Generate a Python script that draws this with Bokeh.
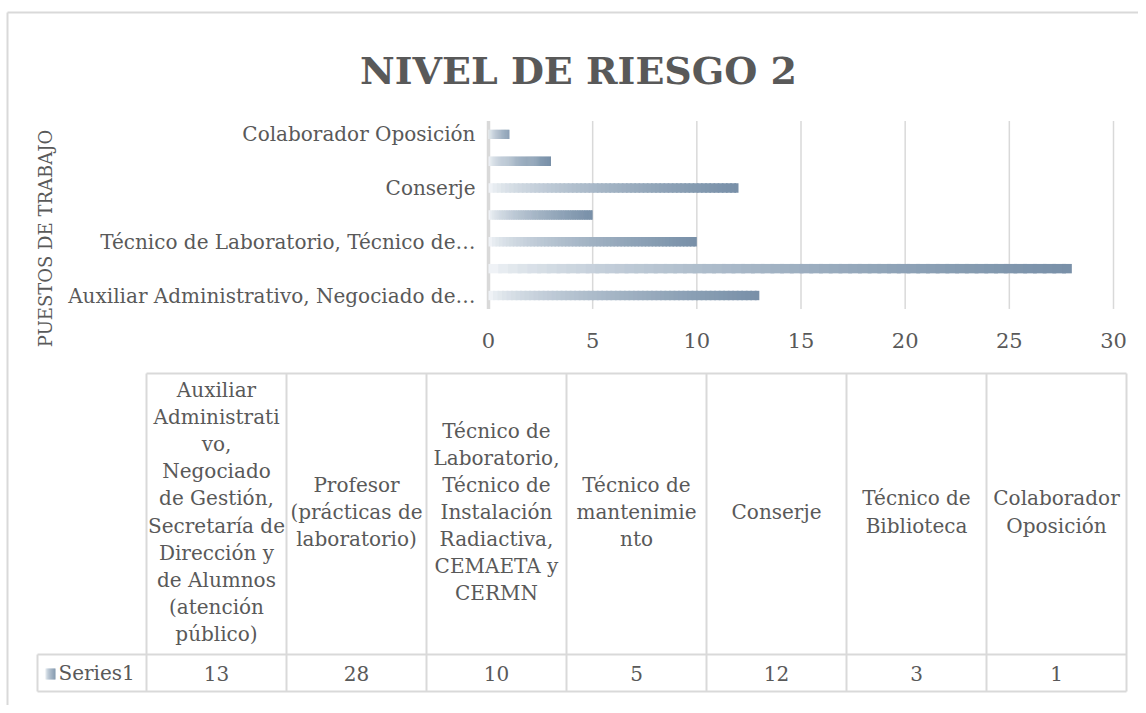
import numpy as np
from bokeh.plotting import figure
from bokeh.models import Range1d
from bokeh.embed import file_html
from bokeh.resources import INLINE
from bokeh.core.properties import value

# ---------------- data ----------------
title_text = "NIVEL DE RIESGO 2"
axis_title = "PUESTOS DE TRABAJO"
series_name = "Series1"
categories = [
    "Auxiliar Administrativo, Negociado de Gestión, Secretaría de Dirección y de Alumnos (atención público)",
    "Profesor (prácticas de laboratorio)",
    "Técnico de Laboratorio, Técnico de Instalación Radiactiva, CEMAETA y CERMN",
    "Técnico de mantenimiento",
    "Conserje",
    "Técnico de Biblioteca",
    "Colaborador Oposición",
]
values = [13, 28, 10, 5, 12, 3, 1]
axis_tick_labels = [
    "Auxiliar Administrativo, Negociado de…",
    "",
    "Técnico de Laboratorio, Técnico de…",
    "",
    "Conserje",
    "",
    "Colaborador Oposición",
]
table_labels = [
    "Auxiliar\nAdministrati\nvo,\nNegociado\nde Gestión,\nSecretaría de\nDirección y\nde Alumnos\n(atención\npúblico)",
    "Profesor\n(prácticas de\nlaboratorio)",
    "Técnico de\nLaboratorio,\nTécnico de\nInstalación\nRadiactiva,\nCEMAETA y\nCERMN",
    "Técnico de\nmantenimie\nnto",
    "Conserje",
    "Técnico de\nBiblioteca",
    "Colaborador\nOposición",
]
x_ticks = [0, 5, 10, 15, 20, 25, 30]

# ---------------- style / layout ----------------
FONT = "DejaVu Serif"
TXT = "#595959"
GRID = "#d9d9d9"
C0 = np.array([248, 250, 252])
C1 = np.array([120, 144, 168])
NSEG = 60
W, H = 1138, 705

# bar-chart placement on the page (pixels)
X_ZERO_PX, X_MAX_PX = 488, 1113       # where 0 and the last tick fall
CAT0_PX, CAT_STEP_PX = 295, 26.857    # centre of first category and band size
PX_PER_X = (X_MAX_PX - X_ZERO_PX) / (x_ticks[-1] - x_ticks[0])

# table placement (pixels)
COL0, COL_W = 146, 140
T_TOP, T_MID, T_BOT = 373, 654, 691
S_LEFT = 37


def grad_color(t):
    s = t ** 0.55
    c = C0 + (C1 - C0) * s
    return "#%02x%02x%02x" % tuple(int(round(v)) for v in c)


x_range = Range1d(x_ticks[0] - X_ZERO_PX / PX_PER_X, x_ticks[0] + (W - X_ZERO_PX) / PX_PER_X)
y_range = Range1d((CAT0_PX - H) / CAT_STEP_PX, CAT0_PX / CAT_STEP_PX)

p = figure(width=W, height=H, x_range=x_range, y_range=y_range,
           x_axis_location=None, y_axis_location=None,
           output_backend="svg", toolbar_location=None, min_border=0)
p.extra_x_ranges = {"px": Range1d(0, W)}
p.extra_y_ranges = {"px": Range1d(H, 0)}
p.grid.grid_line_color = None
p.outline_line_color = None

ncat = len(categories)
cat_pos = list(range(ncat))
band_lo, band_hi = -0.5, ncat - 0.5

# chart border (top & left)
p.segment(x0=[7, 7], y0=[12, 12], x1=[W, 7], y1=[12, H], line_color=GRID, line_width=2,
          x_range_name="px", y_range_name="px")

# vertical gridlines
p.segment(x0=x_ticks, y0=[band_lo] * len(x_ticks), x1=x_ticks, y1=[band_hi] * len(x_ticks),
          line_color=GRID, line_width=1.5)
# category axis line
p.segment(x0=[x_ticks[0]], y0=[band_lo], x1=[x_ticks[0]], y1=[band_hi], line_color=GRID, line_width=3.5)

# gradient bars, drawn as slices of each bar
ys, lefts, rights, cols = [], [], [], []
for pos, v in zip(cat_pos, values):
    for k in range(NSEG):
        ys.append(pos)
        lefts.append(v * k / NSEG)
        rights.append(min(v, v * (k + 1.4) / NSEG))
        cols.append(grad_color((k + 0.5) / NSEG))
p.hbar(y=ys, left=lefts, right=rights, height=0.35, fill_color=cols, line_color=None)

# category labels
p.text(x=[x_ticks[0] - 13 / PX_PER_X] * ncat, y=cat_pos, text=axis_tick_labels,
       text_align="right", text_baseline="middle", text_font=value(FONT),
       text_font_size="20px", text_color=TXT)
# value tick labels
p.text(x=x_ticks, y=[band_lo - 32 / CAT_STEP_PX] * len(x_ticks), text=[str(v) for v in x_ticks],
       text_align="center", text_baseline="middle", text_font=value(FONT),
       text_font_size="21px", text_color=TXT)

# title and axis title
p.text(x=[578], y=[70], text=[title_text], text_align="center", text_baseline="middle",
       text_font=value(FONT), text_font_size="38px", text_font_style="bold", text_color=TXT,
       x_range_name="px", y_range_name="px")
p.text(x=[45], y=[238], text=[axis_title], angle=np.pi / 2, text_align="center",
       text_baseline="middle", text_font=value(FONT), text_font_size="18px", text_color=TXT,
       x_range_name="px", y_range_name="px")

# ---------------- data table ----------------
col_edges = [COL0 + COL_W * i for i in range(ncat + 1)]
col_mid = [COL0 + COL_W * (i + 0.5) for i in range(ncat)]
sx0 = col_edges + [COL0, S_LEFT, S_LEFT, S_LEFT]
sx1 = col_edges + [col_edges[-1], col_edges[-1], col_edges[-1], S_LEFT]
sy0 = [T_TOP] * len(col_edges) + [T_TOP, T_MID, T_BOT, T_MID]
sy1 = [T_BOT] * len(col_edges) + [T_TOP, T_MID, T_BOT, T_BOT]
p.segment(x0=sx0, y0=sy0, x1=sx1, y1=sy1, line_color=GRID, line_width=2,
          x_range_name="px", y_range_name="px")

p.text(x=col_mid, y=[(T_TOP + T_MID) / 2 - 2] * ncat, text=table_labels, text_align="center",
       text_baseline="middle", text_font=value(FONT), text_font_size="20px",
       text_line_height=1.13, text_color=TXT, x_range_name="px", y_range_name="px")
p.text(x=col_mid, y=[(T_MID + T_BOT) / 2] * ncat, text=[str(v) for v in values],
       text_align="center", text_baseline="middle", text_font=value(FONT),
       text_font_size="20px", text_color=TXT, x_range_name="px", y_range_name="px")

# legend key with gradient + series name
nk = 10
kx0, kx1, ky0, ky1 = 45, 55, 668, 679
p.quad(left=[kx0 + (kx1 - kx0) * k / nk for k in range(nk)],
       right=[min(kx1, kx0 + (kx1 - kx0) * (k + 1.3) / nk) for k in range(nk)],
       top=[ky0] * nk, bottom=[ky1] * nk,
       fill_color=[grad_color((k + 0.5) / nk) for k in range(nk)], line_color=None,
       x_range_name="px", y_range_name="px")
p.text(x=[58], y=[(T_MID + T_BOT) / 2], text=[series_name], text_align="left",
       text_baseline="middle", text_font=value(FONT), text_font_size="20px", text_color=TXT,
       x_range_name="px", y_range_name="px")

open("out.html", "w").write(file_html(p, INLINE))
